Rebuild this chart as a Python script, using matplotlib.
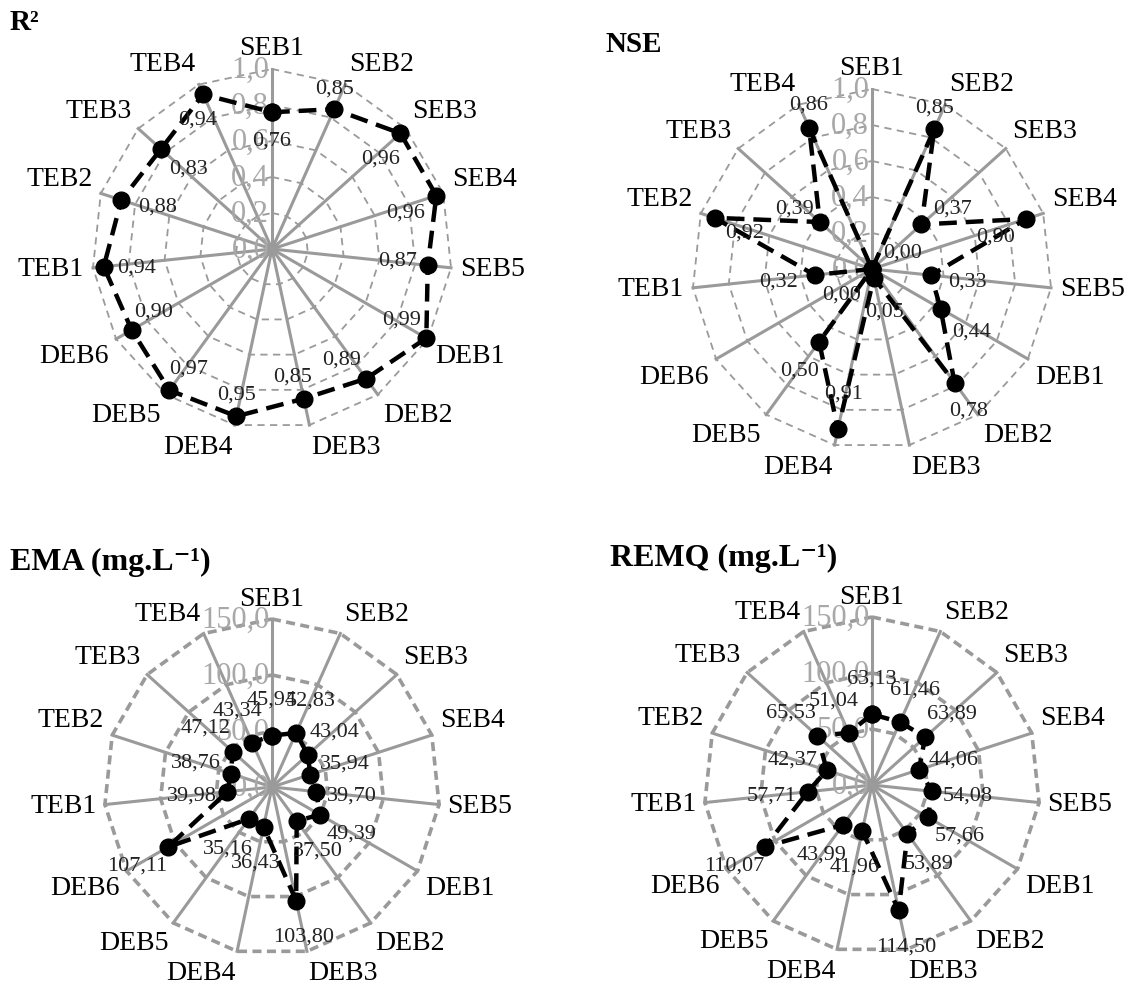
import numpy as np
import matplotlib
matplotlib.use("Agg")
import matplotlib.pyplot as plt

plt.rcParams['font.family'] = ['Liberation Serif', 'DejaVu Serif']
plt.rcParams['mathtext.fontset'] = 'stix'

categories = ["SEB1", "SEB2", "SEB3", "SEB4", "SEB5",
              "DEB1", "DEB2", "DEB3", "DEB4", "DEB5", "DEB6",
              "TEB1", "TEB2", "TEB3", "TEB4"]

r2_values = [0.76, 0.85, 0.96, 0.96, 0.87, 0.99, 0.89, 0.85, 0.95, 0.97, 0.90, 0.94, 0.88, 0.83, 0.94]
nse_values = [0.00, 0.85, 0.37, 0.90, 0.33, 0.44, 0.78, 0.05, 0.91, 0.50, 0.00, 0.32, 0.92, 0.39, 0.86]
ema_values = [45.94, 52.83, 43.04, 35.94, 39.70, 49.39, 37.50, 103.80, 36.43, 35.16, 107.11, 39.98, 38.76, 47.12, 43.34]
remq_values = [63.13, 61.46, 63.89, 44.06, 54.08, 57.66, 53.89, 114.50, 41.96, 43.99, 110.07, 57.71, 42.37, 65.53, 51.04]

r2_ticks = [0.0, 0.2, 0.4, 0.6, 0.8, 1.0]
nse_ticks = [0.0, 0.2, 0.4, 0.6, 0.8, 1.0]
ema_ticks = [0.0, 50.0, 100.0, 150.0]
remq_ticks = [0.0, 50.0, 100.0, 150.0]

# label offsets (points) for value annotations
r2_offsets = [(0, -20), (0, 15), (-14, -18), (-22, -12), (-22, 4), (-18, 14), (-18, 14), (-8, 16),
              (0, 16), (14, 16), (16, 14), (24, 0), (26, -4), (20, -14), (-4, -18)]
nse_offsets = [(22, 12), (0, 16), (22, 12), (-22, -12), (26, -4), (22, -16), (10, -20), (8, -24),
               (4, 26), (-14, -20), (-22, -18), (-26, -4), (22, -10), (-18, 10), (0, 17)]

W, H = 1132, 987
fig = plt.figure(figsize=(W / 100, H / 100), dpi=100)

GRAY = '#9a9a9a'
TICKGRAY = '#a8a8a8'


def radar(center, rad, values, ticks, thick, offsets=None, radial_off=None):
    cx, cy = center
    ax = fig.add_axes([(cx - rad) / W, 1 - (cy + rad) / H, 2 * rad / W, 2 * rad / H],
                      projection='polar')
    ax.set_theta_zero_location('N')
    ax.set_theta_direction(-1)
    ax.axis('off')
    n = len(categories)
    th = np.linspace(0, 2 * np.pi, n, endpoint=False)
    rmax = ticks[-1]
    ax.set_ylim(0, rmax)
    # rings
    for t in ticks[1:]:
        ax.plot(np.append(th, th[0]), [t] * (n + 1), color=GRAY,
                lw=2.6 if thick else 1.3, ls=(0, (2.5, 1.5)) if thick else (0, (4, 3)),
                zorder=1, clip_on=False)
    # spokes
    for a in th:
        ax.plot([a, a], [0, rmax], color=GRAY, lw=2.2, zorder=2, clip_on=False)
    # tick labels
    for t in ticks:
        ax.annotate(f"{t:.1f}".replace('.', ','), (0, t), xytext=(-2, 0),
                    textcoords='offset points', ha='right', va='center',
                    fontsize=22, color=TICKGRAY, zorder=3, annotation_clip=False)
    # category labels
    for a, c in zip(th, categories):
        s, co = np.sin(a), np.cos(a)
        ha = 'left' if s > 0.15 else ('right' if s < -0.15 else 'center')
        va = 'bottom' if co > 0.3 else ('top' if co < -0.3 else 'center')
        ax.text(a, rmax * 1.05, c, ha=ha, va=va, fontsize=20, color='black',
                zorder=4, clip_on=False)
    # data
    v = np.array(values)
    ax.plot(np.append(th, th[0]), np.append(v, v[0]), color='black', lw=3.2,
            ls=(0, (4, 2)), marker='o', ms=12, mfc='black', mec='black',
            zorder=5, clip_on=False)
    for i, (a, val) in enumerate(zip(th, v)):
        if offsets is not None:
            dx, dy = offsets[i]
        else:
            dx, dy = radial_off * np.sin(a), radial_off * np.cos(a)
        ax.annotate(f"{val:.2f}".replace('.', ','), (a, val), xytext=(dx, dy),
                    textcoords='offset points', ha='center', va='center',
                    fontsize=16, color='#222222', zorder=6, annotation_clip=False)
    return ax


radar((272, 250), 180, r2_values, r2_ticks, False, offsets=r2_offsets)
radar((872, 270), 180, nse_values, nse_ticks, False, offsets=nse_offsets)
radar((272, 788), 168, ema_values, ema_ticks, True, radial_off=26)
radar((872, 786), 168, remq_values, remq_ticks, True, radial_off=26)

fig.text(10 / W, 1 - 22 / H, "R²", fontsize=21, fontweight='bold', ha='left', va='center')
fig.text(606 / W, 1 - 44 / H, "NSE", fontsize=21, fontweight='bold', ha='left', va='center')
fig.text(10 / W, 1 - 562 / H, "EMA (mg.L\u207b\u00b9)", fontsize=23, fontweight='bold',
         ha='left', va='center')
fig.text(610 / W, 1 - 558 / H, "REMQ (mg.L\u207b\u00b9)", fontsize=23, fontweight='bold',
         ha='left', va='center')

fig.savefig("out.png", dpi=100, facecolor='white')
